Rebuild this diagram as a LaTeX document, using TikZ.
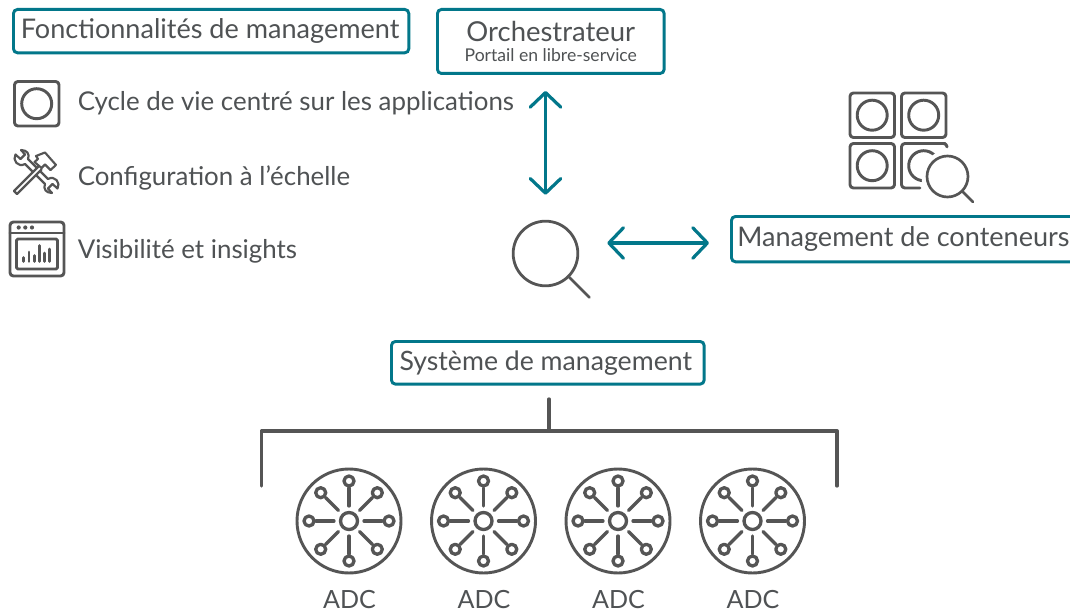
\documentclass[tikz,border=0pt]{standalone}
\usepackage{fontspec}
\setmainfont{Lato}
\usetikzlibrary{arrows.meta,calc}
\definecolor{teal1}{HTML}{02778A}
\definecolor{ink}{HTML}{555555}
\definecolor{txt}{HTML}{4F5254}
\tikzset{
  lab/.style={font=\fontsize{19.4}{23}\selectfont,text=txt,inner sep=0pt},
  tbox/.style={draw=teal1,line width=2.2pt,rounded corners=3pt,fill=white,inner sep=0pt,text=txt},
  arr/.style={draw=teal1,line width=2.4pt,line cap=round,{Straight Barb[length=11pt,width=23pt,round]}-{Straight Barb[length=11pt,width=23pt,round]}},
  ico/.style={draw=ink,line width=2.2pt,line cap=round,line join=round},
  adcline/.style={draw=ink,line width=2.5pt,line cap=round,line join=round},
  thin/.style={draw=ink,line width=1.6pt,line cap=round,line join=round},
  tree/.style={draw=ink,line width=2.5pt,line cap=round,line join=round},
  adclab/.style={font=\fontsize{18.8}{20}\selectfont,text=txt,inner sep=0pt}
}
\newcommand{\adcicon}[2]{%
  \begin{scope}[shift={(#1,521)}]
    \node[circle,draw=ink,line width=2.2pt,minimum size=78pt,inner sep=0pt] (#2) at (0,0) {};
    \draw[adcline] (0,0) circle (8.5);
    \foreach \a in {0,45,...,315}{
      \draw[adcline] (\a:15) -- (\a:33);
      \draw[adcline] (\a:40) circle (5);
    }
  \end{scope}}
\begin{document}
\begin{tikzpicture}[x=0.75pt,y=-0.75pt]
\useasboundingbox (0,0) rectangle (1070,613);
\fill[white] (0,0) rectangle (1070,613);
% boxes
\begin{scope}
\clip (0,0) rectangle (1070,613);
\node[tbox,minimum width=296.5pt,minimum height=32.5pt,anchor=north west,font=\fontsize{20.3}{23}\selectfont] (feat) at (12,8) {\hspace*{-1.5pt}Fonctionnalités de management};
\node[tbox,minimum width=170pt,minimum height=48pt,anchor=north west,align=center] (orch) at (436,8) {\fontsize{20.6}{22}\selectfont Orchestrateur\\[3pt]\fontsize{13.2}{14}\selectfont Portail en libre-service};
\node[tbox,minimum width=262pt,minimum height=34pt,anchor=north west,font=\fontsize{20.3}{23}\selectfont] (cont) at (730,215) {\hspace*{-4pt}Management de conteneurs};
\node[tbox,minimum width=234.5pt,minimum height=32pt,anchor=north west,font=\fontsize{20}{23}\selectfont] (sys) at (390,340) {\hspace*{-3pt}Système de management};
\end{scope}
% left list
\node[lab,anchor=west] (t1) at (77.5,103.5) {Cycle de vie centré sur les applications};
\node[lab,anchor=west] (t2) at (77.5,177.5) {Configuration à l’échelle};
\node[lab,anchor=west] (t3) at (77.5,251) {Visibilité et insights};
% cycle icon
\draw[ico,rounded corners=2.5pt] (14.5,81.5) rectangle (59,126);
\draw[ico] (36.7,103.7) circle (15);
% tools icon: hammer
\draw[thin] (38.75,166.25) -- (14,191) -- (17,194) -- (41.5,169.5);
\draw[thin] (36,156) -- (45,152.5) -- (56,165) -- (50.5,170) -- (45,164.5) -- (41.5,168) -- (34.5,162) -- (38,159) -- cycle;
% tools icon: wrench
\draw[thin] (36.5,167.5) -- (28,159) .. controls (30,154) and (27,150) .. (21,150) -- (25,154.5) -- (20.5,159) -- (15.5,154.5) .. controls (12,160) and (18,168) .. (25,164) -- (32.5,171.5);
\draw[thin] (36.5,175.5) -- (45,184) .. controls (43,189) and (46,193) .. (52,193) -- (48,188.5) -- (52.5,184) -- (57.5,188.5) .. controls (61,183) and (55,175) .. (48,179) -- (40.5,171.5);
% window icon
\draw[ico,rounded corners=2.5pt] (10,222) rectangle (64,276);
\draw[ico] (10,233) -- (64,233);
\fill[ink] (18.7,227.5) circle (2.1) (25.3,227.5) circle (2.1) (32,227.5) circle (2.1);
\draw[ico,rounded corners=1pt] (16.5,239) rectangle (57.5,269);
\foreach \x/\t in {23.5/257.5,29/252,34.3/255.5,39.3/245.5,44.3/253,49.3/249}{\draw[ico] (\x,261.5) -- (\x,\t);}
% magnifier
\node[circle,draw=ink,line width=2.1pt,minimum size=48.5pt,inner sep=0pt] (mag) at (545.5,253.5) {};
\draw[ico,line width=2pt] (mag.-45) -- ++(20,20);
% arrows
\draw[arr,shorten <=16*0.75pt,shorten >=25*0.75pt] (orch.south -| mag.north) -- (mag.north);
\coordinate (h1) at ([yshift=10.5*0.75pt]mag.east);
\draw[arr,shorten <=28*0.75pt,shorten >=21*0.75pt] (h1) -- (h1 -| cont.west);
% tree
\draw[tree] (549,399) -- (549,431);
\draw[tree] (261.5,486) -- (261.5,431) -- (837,431) -- (837,486);
% ADCs
\adcicon{349}{a1}
\adcicon{483.5}{a2}
\adcicon{618}{a3}
\adcicon{752.5}{a4}
\node[adclab] (l1) at (349.5,600) {ADC};
\node[adclab] (l2) at (484,600) {ADC};
\node[adclab] (l3) at (618.5,600) {ADC};
\node[adclab] (l4) at (753,600) {ADC};
% container icon
\foreach \x/\y in {850/93,901.5/93,850/143.5}{
  \draw[ico,rounded corners=2.5pt] (\x,\y) rectangle ++(44.5,44.5);
  \draw[ico] (\x+22.2,\y+22.2) circle (15);
}
\draw[ico,rounded corners=2.5pt] (947,146) -- (947,143.5) -- (901.5,143.5) -- (901.5,188) -- (920,188);
\draw[ico] (923.7,165.7) circle (15);
\fill[white] (947.5,176.5) circle (26);
\draw[ico,rounded corners=2.5pt] (945,143.5) -- (930,143.5);
\draw[ico,line width=2pt] (947.5,176.5) circle (20.5);
\draw[ico,line width=2pt] (962,191) -- (973,202);
\end{tikzpicture}
\end{document}
